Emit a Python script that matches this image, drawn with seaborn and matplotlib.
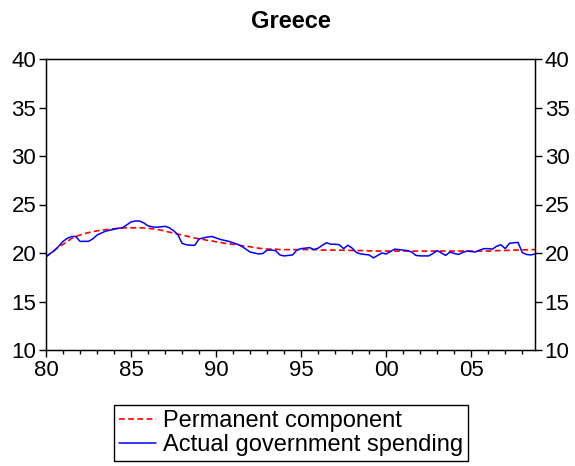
import numpy as np
import pandas as pd
import matplotlib
matplotlib.use("Agg")
import matplotlib.pyplot as plt
from matplotlib.ticker import FixedLocator, MultipleLocator
import seaborn as sns

# quarterly data, 1980Q1 .. 2008Q4 (share of GDP, %)
start_year = 1980
actual_spending = [
    19.6, 19.95, 20.25, 20.7,
    21.2, 21.5, 21.7, 21.7,
    21.2, 21.2, 21.2, 21.45,
    21.85, 22.05, 22.25, 22.35,
    22.45, 22.55, 22.6, 22.9,
    23.2, 23.3, 23.3, 23.1,
    22.8, 22.7, 22.65, 22.7,
    22.75, 22.6, 22.3, 21.9,
    21.0, 20.85, 20.8, 20.8,
    21.45, 21.55, 21.65, 21.7,
    21.55, 21.4, 21.3, 21.2,
    21.05, 20.9, 20.7, 20.4,
    20.1, 20.0, 19.9, 19.95,
    20.3, 20.3, 20.25, 19.8,
    19.7, 19.75, 19.8, 20.3,
    20.45, 20.5, 20.55, 20.35,
    20.5, 20.8, 21.05, 20.9,
    20.9, 20.85, 20.45, 20.8,
    20.5, 20.05, 19.9, 19.85,
    19.8, 19.5, 19.75, 20.0,
    19.9, 20.15, 20.4, 20.35,
    20.3, 20.25, 20.1, 19.75,
    19.7, 19.7, 19.7, 19.95,
    20.25, 20.0, 19.75, 20.1,
    19.95, 19.85, 20.05, 20.2,
    20.15, 20.1, 20.3, 20.45,
    20.45, 20.4, 20.7, 20.85,
    20.45, 21.0, 21.05, 21.1,
    20.05, 19.85, 19.8, 19.9,
]
permanent_component = [
    19.6, 19.95, 20.3, 20.6,
    20.9, 21.15, 21.5, 21.7,
    21.85, 22.0, 22.1, 22.2,
    22.28, 22.35, 22.4, 22.45,
    22.5, 22.55, 22.58, 22.6,
    22.6, 22.6, 22.6, 22.58,
    22.55, 22.5, 22.45, 22.35,
    22.25, 22.15, 22.05, 21.95,
    21.85, 21.75, 21.65, 21.55,
    21.45, 21.4, 21.3, 21.25,
    21.15, 21.1, 21.0, 20.95,
    20.9, 20.85, 20.75, 20.7,
    20.65, 20.55, 20.5, 20.45,
    20.4, 20.4, 20.4, 20.35,
    20.35, 20.35, 20.35, 20.35,
    20.35, 20.35, 20.35, 20.35,
    20.35, 20.3, 20.3, 20.3,
    20.3, 20.3, 20.28, 20.28,
    20.26, 20.25, 20.25, 20.25,
    20.22, 20.2, 20.2, 20.2,
    20.2, 20.2, 20.2, 20.2,
    20.2, 20.2, 20.2, 20.2,
    20.2, 20.2, 20.2, 20.2,
    20.2, 20.2, 20.2, 20.2,
    20.2, 20.2, 20.2, 20.2,
    20.2, 20.2, 20.2, 20.2,
    20.2, 20.22, 20.24, 20.25,
    20.26, 20.28, 20.3, 20.3,
    20.32, 20.33, 20.34, 20.35,
]
year_ticks = [1980, 1985, 1990, 1995, 2000, 2005]
year_labels = ["80", "85", "90", "95", "00", "05"]
y_ticks = [10, 15, 20, 25, 30, 35, 40]

sns.set_style("ticks")
plt.rcParams["font.family"] = ["Liberation Sans", "DejaVu Sans"]
plt.rcParams["text.color"] = "black"
plt.rcParams["xtick.color"] = "black"
plt.rcParams["ytick.color"] = "black"
plt.rcParams["axes.edgecolor"] = "black"

n = len(actual_spending)
dates = start_year + np.arange(n) / 4.0
df = pd.DataFrame({
    "date": dates,
    "Permanent component": permanent_component,
    "Actual government spending": actual_spending,
})

fig = plt.figure(figsize=(5.75, 4.66), dpi=100)
ax = fig.add_axes([46 / 575, 1 - 350 / 466, 489 / 575, 291 / 466])

sns.lineplot(data=df, x="date", y="Permanent component", ax=ax,
             color="#ff0000", linestyle=(0, (3.5, 2)), linewidth=1.2,
             label="Permanent component")
sns.lineplot(data=df, x="date", y="Actual government spending", ax=ax,
             color="#0000ff", linewidth=1.1,
             label="Actual government spending")

ax.set_xlim(dates[0], dates[-1])
ax.set_ylim(10, 40)
ax.xaxis.set_major_locator(FixedLocator(year_ticks))
ax.set_xticklabels(year_labels)
ax.xaxis.set_minor_locator(MultipleLocator(1))
ax.set_yticks(y_ticks)
ax.set_xlabel("")
ax.set_ylabel("")
ax.tick_params(axis="both", which="major", labelsize=16, length=5,
               width=1, colors="black", direction="out", pad=2)
ax.tick_params(axis="x", which="minor", length=3, width=1, color="black")
for s in ax.spines.values():
    s.set_color("black")
    s.set_linewidth(1.0)

ax2 = ax.twinx()
ax2.set_ylim(10, 40)
ax2.set_yticks(y_ticks)
ax2.tick_params(axis="y", labelsize=16, length=5, width=1, colors="black",
                direction="out", pad=2)

ax.set_title("Greece", fontsize=17, fontweight="bold", pad=22, color="black")

handles, labels = ax.get_legend_handles_labels()
ax.get_legend().remove()
leg = fig.legend(handles, labels, loc="center",
                 bbox_to_anchor=(291 / 575, 1 - 433 / 466),
                 fontsize=17, frameon=True, fancybox=False,
                 edgecolor="black", framealpha=1, handlelength=1.55,
                 handletextpad=0.3, borderpad=0.2, labelspacing=0.08,
                 borderaxespad=0, labelcolor="black")
leg.get_frame().set_linewidth(1.0)

fig.savefig("out.png", dpi=100)
